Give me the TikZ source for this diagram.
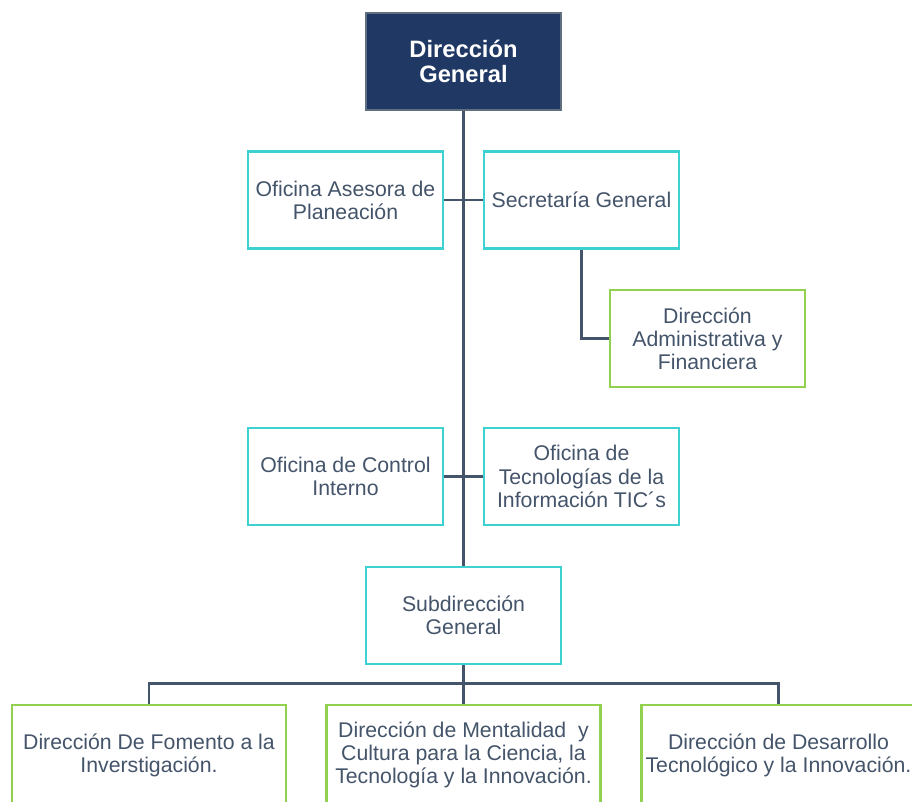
\documentclass[tikz,border=0pt]{standalone}
\usepackage{fontspec}
\setmainfont{Liberation Sans}
\definecolor{navy}{HTML}{1F3864}
\definecolor{navyline}{HTML}{5F6F80}
\definecolor{slate}{HTML}{44546A}
\definecolor{teal}{HTML}{3DD1D1}
\definecolor{lime}{HTML}{92D050}

\def\px{0.02}

\begin{document}
\begin{tikzpicture}[%
	x=\px cm, y=-\px cm,%
	box/.style ={draw, line width=1.6pt, fill=white, align=center, text=slate,%
		minimum width=195*\px cm, minimum height=97*\px cm, inner sep=0pt,%
		font=\fontsize{12.1}{13.2}\selectfont},%
	head/.style ={box, draw=navyline, fill=navy, text=white,%
		font=\fontsize{13.5}{13.8}\selectfont\bfseries},%
	office/.style ={box, draw=teal},%
	direction/.style ={box, draw=lime},%
	wide/.style ={direction, minimum width=274*\px cm, minimum height=100*\px cm},%
	link/.style ={draw=slate, line width=1.7pt},%
	]
	\useasboundingbox (0,0) rectangle (912,801);
%%% boxes
	\node [head] (dg) at (463.5,61.5) {Dirección\\General};
	\node [office] (asesora) at (345.5,200) {Oficina Asesora de\\Planeación};
	\node [office] (secretaria) at (581.5,200) {Secretaría General};
	\node [direction] (admin) at (707.5,338.5) {Dirección\\Administrativa y\\Financiera};
	\node [office] (control) at (345.5,476.5) {Oficina de Control\\Interno};
	\node [office] (tic) at (581.5,476.5) {Oficina de\\Tecnologías de la\\Información TIC´s};
	\node [office] (sub) at (463.5,615.5) {Subdirección\\General};
	\node [wide] (fomento) at (149,755) {Dirección De Fomento a la\\Inverstigación.};
	\node [wide] (mentalidad) at (463.5,755) {Dirección de Mentalidad~ y\\Cultura para la Ciencia, la\\Tecnología y la Innovación.};
	\node [wide] (desarrollo) at (778.5,755) {Dirección de Desarrollo\\Tecnológico y la Innovación.};
%%% boxes
%%% links
	\draw [link] (dg.south) -- (sub.north);
	\draw [link] (asesora.east) -- (secretaria.west);
	\draw [link] (control.east) -- (tic.west);
	\draw [link] (secretaria.south) |- (admin.west);
	\draw [link] (sub.south) -- (mentalidad.north);
	\draw [link] (fomento.north) -- ++(0,-20) -| (desarrollo.north);
%%% links
\end{tikzpicture}
\end{document}
